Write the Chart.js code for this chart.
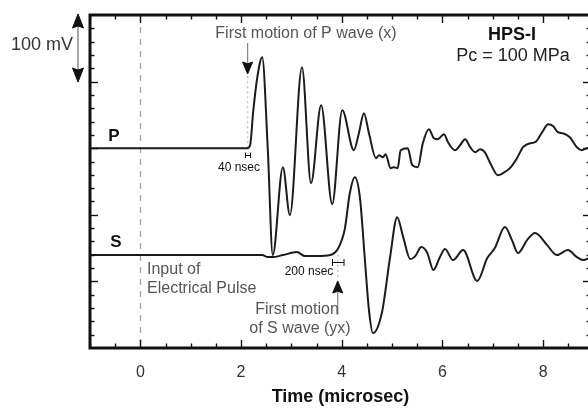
<!DOCTYPE html>
<html>
<head>
<meta charset="utf-8">
<script src="https://cdn.jsdelivr.net/npm/chart.js@4.4.1/dist/chart.umd.min.js"></script>
<style>
  html, body { margin: 0; padding: 0; background: #fff; overflow: hidden; }
  #wrap { width: 600px; height: 408px; }
</style>
</head>
<body>
<div id="wrap"><canvas id="chart" width="600" height="408"></canvas></div>
<script>
const FONT = '"Liberation Sans", Arial, Helvetica, sans-serif';

// time axis (microsec) and labelled ticks
const xTickValues = [0, 2, 4, 6, 8];

// P trace: time (microsec) / signal (mV, baseline offset 300)
const pTime = [-1.0, 2.12, 2.18, 2.24, 2.32, 2.42, 2.53, 2.63, 2.83, 2.97, 3.21, 3.39, 3.59, 3.81, 4.01,
  4.24, 4.34, 4.44, 4.54, 4.68, 4.74, 4.82, 4.87, 4.97, 5.03, 5.11, 5.17, 5.31, 5.40, 5.51, 5.61,
  5.73, 5.83, 5.91, 6.03, 6.11, 6.25, 6.35, 6.45, 6.55, 6.65, 6.75, 6.84, 6.94, 7.10, 7.20, 7.34,
  7.48, 7.60, 7.74, 7.84, 7.98, 8.10, 8.20, 8.29, 8.39, 8.53, 8.67, 8.77, 8.87, 8.95];
const pVolt = [300, 300, 304.5, 354, 405, 436.5, 300, 139.5, 271.5, 199.5, 421.5, 247.5, 364.5, 216, 357,
  297, 322.5, 352.5, 322.5, 285, 289.5, 286.5, 291, 270, 271.5, 270, 297, 300, 274.5, 271.5, 307.5,
  328.5, 315, 313.5, 321, 309, 297, 304.5, 313.5, 301.5, 294, 298.5, 294, 279, 259.5, 262.5, 270,
  285, 301.5, 307.5, 309, 324, 336, 333, 324, 322.5, 316.5, 301.5, 297, 300, 300];

// S trace: time (microsec) / signal (mV, baseline offset 140)
const sTime = [-1.0, 2.42, 2.53, 2.63, 2.83, 3.11, 3.27, 3.51, 3.77, 3.92, 4.06, 4.16, 4.26, 4.36, 4.46,
  4.54, 4.62, 4.80, 4.96, 5.10, 5.22, 5.36, 5.46, 5.58, 5.70, 5.82, 5.95, 6.05, 6.21, 6.41, 6.69,
  6.89, 7.04, 7.24, 7.38, 7.50, 7.68, 7.84, 8.08, 8.27, 8.49, 8.67, 8.79, 8.95];
const sVolt = [139.5, 139.5, 136.5, 136.5, 139.5, 144, 138, 138, 139.5, 148.5, 178.5, 232.5, 256.5, 226.5, 132,
  57, 22.5, 54, 136.5, 196.5, 166.5, 133.5, 138, 151.5, 142.5, 117, 136.5, 148.5, 132, 147, 100.5,
  135, 150, 181.5, 162, 142.5, 162, 172.5, 154.5, 139.5, 147, 136.5, 132, 136.5];

const pOnset = 2.13;
const sOnset = 3.92;

function toPoints(ts, vs) {
  return ts.map((t, i) => ({ x: t, y: vs[i] }));
}

function text(ctx, str, px, py, size, color, opts = {}) {
  ctx.font = `${opts.bold ? 'bold ' : ''}${size}px ${FONT}`;
  ctx.fillStyle = color;
  ctx.textAlign = opts.align || 'center';
  ctx.textBaseline = 'middle';
  ctx.fillText(str, px, py);
}

// dir 1 = pointing down, -1 = pointing up
function arrowHead(ctx, px, tipY, dir, w, h) {
  ctx.beginPath();
  ctx.moveTo(px, tipY);
  ctx.lineTo(px - w / 2, tipY - dir * h);
  ctx.lineTo(px, tipY - dir * h * 0.85);
  ctx.lineTo(px + w / 2, tipY - dir * h);
  ctx.closePath();
  ctx.fill();
  ctx.lineWidth = 1;
  ctx.strokeStyle = ctx.fillStyle;
  ctx.stroke();
}

function vline(ctx, px, y1, y2) {
  ctx.beginPath();
  ctx.moveTo(px, y1);
  ctx.lineTo(px, y2);
  ctx.stroke();
}

function hline(ctx, x1, x2, py) {
  ctx.beginPath();
  ctx.moveTo(x1, py);
  ctx.lineTo(x2, py);
  ctx.stroke();
}

const guideLines = {
  id: 'guideLines',
  beforeDatasetsDraw(chart) {
    const { ctx, chartArea: a, scales: { x, y } } = chart;
    ctx.save();
    // input pulse at t = 0
    ctx.strokeStyle = '#a8a8a8';
    ctx.lineWidth = 1.4;
    ctx.setLineDash([6, 6]);
    vline(ctx, Math.round(x.getPixelForValue(0)) + 0.5, a.top, a.bottom);
    // first motion markers
    ctx.strokeStyle = '#c4c4c4';
    ctx.lineWidth = 1.5;
    ctx.setLineDash([2, 3]);
    const px = x.getPixelForValue(pOnset);
    vline(ctx, px, y.getPixelForValue(300), 76);
    const sx = x.getPixelForValue(sOnset);
    vline(ctx, sx, y.getPixelForValue(140), 279);
    ctx.restore();
  }
};

const frameTicks = {
  id: 'frameTicks',
  afterDatasetsDraw(chart) {
    const { ctx, chartArea: a, scales: { x, y } } = chart;
    ctx.save();
    ctx.strokeStyle = '#111';
    ctx.lineWidth = 1.4;
    for (let i = -2; i <= 17; i++) {
      const t = i / 2;
      const px = Math.round(x.getPixelForValue(t)) + 0.5;
      const len = t % 2 === 0 ? 8 : 4.5;
      vline(ctx, px, a.bottom, a.bottom - len);
      vline(ctx, px, a.top, a.top + len);
    }
    for (let v = 20; v < 500; v += 20) {
      const py = Math.round(y.getPixelForValue(v)) + 0.5;
      const len = v % 100 === 0 ? 8 : 4.5;
      hline(ctx, a.left, a.left + len, py);
      hline(ctx, a.right, a.right - len, py);
    }
    ctx.lineWidth = 3;
    ctx.strokeStyle = '#111';
    ctx.strokeRect(a.left, a.top, a.right - a.left, a.bottom - a.top);
    ctx.restore();
  }
};

const notes = {
  id: 'notes',
  afterDraw(chart) {
    const { ctx, scales: { x } } = chart;
    ctx.save();

    // 100 mV scale arrow
    ctx.strokeStyle = '#8a8a8a';
    ctx.lineWidth = 1.5;
    vline(ctx, 78, 24, 72);
    ctx.fillStyle = '#111';
    arrowHead(ctx, 78, 14, -1, 11, 14);
    arrowHead(ctx, 78, 82, 1, 11, 14);
    text(ctx, '100 mV', 42, 45, 18, '#333');

    // P first motion
    const px = x.getPixelForValue(pOnset);
    ctx.strokeStyle = '#8a8a8a';
    ctx.lineWidth = 1.3;
    vline(ctx, px, 43, 64);
    ctx.fillStyle = '#111';
    arrowHead(ctx, px, 74, 1, 10, 12);
    text(ctx, 'First motion of P wave (x)', 306, 33.5, 16, '#555');

    ctx.strokeStyle = '#111';
    ctx.lineWidth = 1;
    vline(ctx, 245.5, 152.5, 158);
    vline(ctx, 250.5, 152.5, 158);
    hline(ctx, 245.5, 250.5, 155.5);
    text(ctx, '40 nsec', 239, 167.5, 12, '#111');

    // S first motion
    const sx = x.getPixelForValue(sOnset);
    vline(ctx, 332.5, 259, 266);
    vline(ctx, 344, 259, 266);
    hline(ctx, 332.5, 344, 262.5);
    text(ctx, '200 nsec', 309, 271.5, 12, '#111');

    ctx.strokeStyle = '#8a8a8a';
    ctx.lineWidth = 1.3;
    vline(ctx, sx, 291, 315);
    ctx.fillStyle = '#111';
    arrowHead(ctx, sx, 281, -1, 10, 12);
    text(ctx, 'First motion', 297, 310, 16, '#555');
    text(ctx, 'of S wave (yx)', 300, 329, 16, '#555');

    // input pulse
    text(ctx, 'Input of', 147, 270, 16, '#555', { align: 'left' });
    text(ctx, 'Electrical Pulse', 147, 289, 16, '#555', { align: 'left' });

    // trace names
    text(ctx, 'P', 114, 136, 17, '#111', { bold: true });
    text(ctx, 'S', 116, 242, 17, '#111', { bold: true });

    // sample info
    text(ctx, 'HPS-I', 512, 35, 18, '#111', { bold: true });
    text(ctx, 'Pc = 100 MPa', 513, 56.5, 18, '#222');

    ctx.restore();
  }
};

const traceStyle = {
  borderColor: '#1b1b1b',
  borderWidth: 2,
  pointRadius: 0,
  fill: false,
  cubicInterpolationMode: 'monotone'
};

new Chart(document.getElementById('chart'), {
  type: 'line',
  data: {
    datasets: [
      Object.assign({ label: 'P', data: toPoints(pTime, pVolt) }, traceStyle),
      Object.assign({ label: 'S', data: toPoints(sTime, sVolt) }, traceStyle)
    ]
  },
  options: {
    responsive: false,
    animation: false,
    devicePixelRatio: 1,
    layout: { padding: { left: 90, top: 15, right: 9, bottom: 0 } },
    plugins: {
      legend: { display: false },
      tooltip: { enabled: false }
    },
    scales: {
      x: {
        type: 'linear',
        min: -1,
        max: 8.95,
        grid: { display: false, drawTicks: false },
        border: { display: false },
        afterBuildTicks: (s) => {
          s.ticks = xTickValues.map((v) => ({ value: v }));
        },
        ticks: {
          color: '#333',
          padding: 15,
          maxRotation: 0,
          autoSkip: false,
          font: { family: FONT, size: 16 }
        },
        title: {
          display: true,
          text: 'Time (microsec)',
          color: '#111',
          padding: { top: 0, bottom: 0 },
          font: { family: FONT, size: 18, weight: 'bold' }
        },
        afterFit: (s) => {
          s.height = 60;
        }
      },
      y: {
        display: false,
        min: 0,
        max: 500
      }
    }
  },
  plugins: [guideLines, frameTicks, notes]
});
</script>
</body>
</html>
